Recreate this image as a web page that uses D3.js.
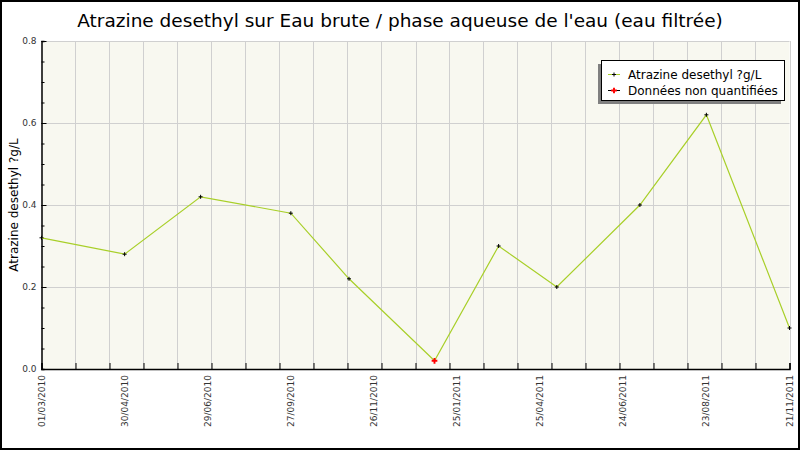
<!DOCTYPE html>
<html>
<head>
<meta charset="utf-8">
<script src="https://cdn.jsdelivr.net/npm/d3@7"></script>
<style>
  body { margin: 0; background: #fff; }
  svg { display: block; }
</style>
</head>
<body>
<svg id="chart" width="800" height="450"></svg>
<script>
// sample dates (dd/mm/yyyy) and measured values
const sample_dates = ["01/03/2010", "10/05/2010", "13/07/2010", "27/09/2010", "15/11/2010",
    "26/01/2011", "21/03/2011", "09/05/2011", "18/07/2011", "12/09/2011", "21/11/2011"]
const sample_values = [0.32, 0.28, 0.42, 0.38, 0.22, 0.02, 0.30, 0.20, 0.40, 0.62, 0.10]
const non_quantified = [false, false, false, false, false, true, false, false, false, false, false]

const x_labels = ["01/03/2010", "30/04/2010", "29/06/2010", "27/09/2010", "26/11/2010",
    "25/01/2011", "25/04/2011", "24/06/2011", "23/08/2011", "21/11/2011"]
const y_ticks = [0.0, 0.2, 0.4, 0.6, 0.8]

const title = "Atrazine desethyl sur Eau brute / phase aqueuse de l'eau (eau filtrée)"
const y_title = "Atrazine desethyl ?g/L"
const legend_items = ["Atrazine desethyl ?g/L", "Données non quantifiées"]

const parse = d3.utcParse("%d/%m/%Y")
const data = sample_dates.map((d, i) => ({ date: parse(d), value: sample_values[i], nq: non_quantified[i] }))

const plot_left = 41.5, plot_right = 789.5, plot_top = 41, plot_bottom = 369
const t0 = parse(sample_dates[0]), t1 = parse(sample_dates[sample_dates.length - 1])

const x = d3.scaleUtc().domain([t0, t1]).range([plot_left, plot_right])
const y = d3.scaleLinear().domain([0, 0.8]).range([plot_bottom, plot_top])

const svg = d3.select("#chart")
const font = "'DejaVu Sans', sans-serif"

// outer frame
svg.append("rect").attr("x", 1).attr("y", 1).attr("width", 798).attr("height", 448)
    .attr("fill", "#fff").attr("stroke", "#000").attr("stroke-width", 2)

// plot background
svg.append("rect").attr("x", plot_left).attr("y", plot_top)
    .attr("width", plot_right - plot_left).attr("height", plot_bottom - plot_top)
    .attr("fill", "#f8f8f0")

// 22 equal divisions of the time axis (grid + ticks)
const grid_dates = d3.range(23).map(i => new Date(+t0 + i * (t1 - t0) / 22))
const label_dates = d3.range(x_labels.length).map(i => new Date(+t0 + i * (t1 - t0) / (x_labels.length - 1)))

const grid = svg.append("g")
grid.selectAll("line.v").data(grid_dates.slice(1)).enter().append("line")
    .attr("x1", d => Math.round(x(d)) + 0.5).attr("x2", d => Math.round(x(d)) + 0.5)
    .attr("y1", plot_top).attr("y2", plot_bottom)
    .attr("stroke", "#d0d0d0").attr("stroke-width", 1)
grid.selectAll("line.h").data(y_ticks.slice(1)).enter().append("line")
    .attr("x1", plot_left).attr("x2", plot_right)
    .attr("y1", d => Math.round(y(d)) + 0.5).attr("y2", d => Math.round(y(d)) + 0.5)
    .attr("stroke", "#d0d0d0").attr("stroke-width", 1)

// x axis: ticks pointing inward
const xAxis = d3.axisBottom(x).tickValues(grid_dates).tickSize(-6).tickFormat("")
const gx = svg.append("g").attr("transform", `translate(0,${plot_bottom})`).call(xAxis)
gx.select(".domain").attr("stroke", "#000").attr("stroke-width", 1.5)
gx.selectAll(".tick line").attr("stroke", "#000")

svg.append("g").selectAll("text").data(label_dates).enter().append("text")
    .attr("transform", d => `translate(${x(d) + 3},${plot_bottom + 6}) rotate(-90)`)
    .attr("text-anchor", "end")
    .attr("font-family", font).attr("font-size", 9).attr("fill", "#333")
    .text((d, i) => x_labels[i])

// y axis: major + minor ticks pointing inward
const yAxis = d3.axisLeft(y).tickValues(d3.range(0, 0.81, 0.05)).tickSize(-3).tickFormat("")
const gy = svg.append("g").attr("transform", `translate(${plot_left},0)`).call(yAxis)
gy.select(".domain").attr("stroke", "#000").attr("stroke-width", 1.5)
gy.selectAll(".tick line").attr("stroke", "#000")
const yMajor = d3.axisLeft(y).tickValues(y_ticks).tickSize(-5).tickFormat("")
const gy2 = svg.append("g").attr("transform", `translate(${plot_left},0)`).call(yMajor)
gy2.select(".domain").remove()
gy2.selectAll(".tick line").attr("stroke", "#000")

svg.append("g").selectAll("text").data(y_ticks).enter().append("text")
    .attr("x", plot_left - 5).attr("y", d => y(d) + 3)
    .attr("text-anchor", "end")
    .attr("font-family", font).attr("font-size", 9).attr("fill", "#333")
    .text(d => d.toFixed(1))

// series line
const line = d3.line().x(d => x(d.date)).y(d => y(d.value))
svg.append("path").datum(data).attr("d", line)
    .attr("fill", "none").attr("stroke", "#a8cf28").attr("stroke-width", 1.2)

// markers
const markers = svg.append("g")
markers.selectAll("path").data(data).enter().append("path")
    .attr("transform", d => `translate(${x(d.date)},${y(d.value)})`)
    .attr("d", d => d.nq ? d3.symbol(d3.symbolCross, 18)() : "M-2,0H2M0,-2V2")
    .attr("fill", d => d.nq ? "#ff0000" : "none")
    .attr("stroke", d => d.nq ? "none" : "#000")
    .attr("stroke-width", 1)

// title
svg.append("text").attr("x", 400).attr("y", 27).attr("text-anchor", "middle")
    .attr("font-family", font).attr("font-size", 18.5).attr("fill", "#000")
    .text(title)

// y axis title
svg.append("text").attr("transform", `translate(18,205) rotate(-90)`).attr("text-anchor", "middle")
    .attr("font-family", font).attr("font-size", 12).attr("fill", "#000")
    .text(y_title)

// legend
const lg = svg.append("g")
lg.append("rect").attr("x", 598).attr("y", 64).attr("width", 183).attr("height", 40).attr("fill", "#808080")
lg.append("rect").attr("x", 601.5).attr("y", 60.5).attr("width", 183).attr("height", 40)
    .attr("fill", "#fff").attr("stroke", "#000").attr("stroke-width", 1)
const legend_colors = ["#a8cf28", "#000"]
legend_items.forEach((label, i) => {
    const ly = 74 + i * 16
    lg.append("line").attr("x1", 608).attr("x2", 620).attr("y1", ly + 0.5).attr("y2", ly + 0.5)
        .attr("stroke", legend_colors[i]).attr("stroke-width", 1)
    lg.append("path").attr("transform", `translate(614,${ly + 0.5})`)
        .attr("d", i == 1 ? d3.symbol(d3.symbolCross, 18)() : "M-2,0H2M0,-2V2")
        .attr("fill", i == 1 ? "#ff0000" : "none")
        .attr("stroke", i == 1 ? "none" : "#000")
    lg.append("text").attr("x", 628).attr("y", ly + 4.5)
        .attr("font-family", font).attr("font-size", 12).attr("fill", "#000")
        .text(label)
})
</script>
</body>
</html>
